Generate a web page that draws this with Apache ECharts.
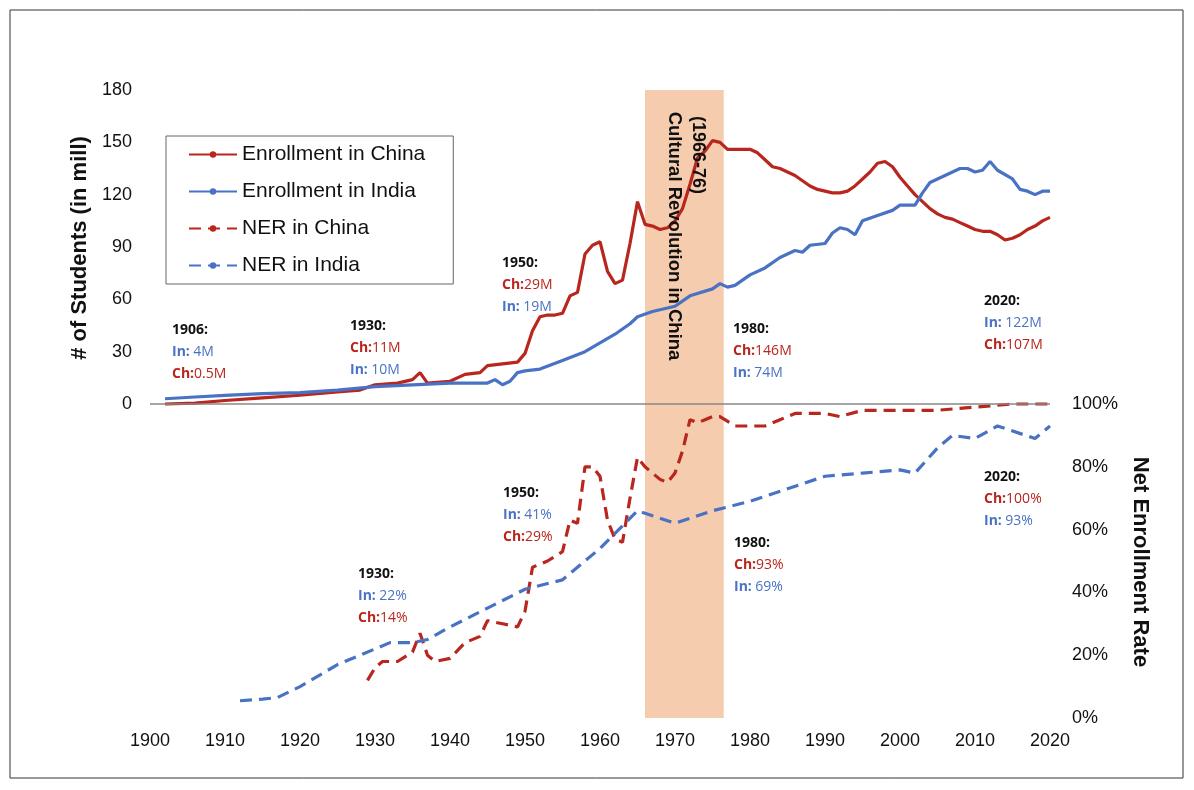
<!DOCTYPE html>
<html><head><meta charset="utf-8">
<script src="https://cdn.jsdelivr.net/npm/echarts@6/dist/echarts.min.js"></script>
<style>html,body{margin:0;background:#fff}#c{width:1194px;height:790px}</style>
</head><body><div id="c"></div>
<script>
const chinaEnroll=[[1902,0],[1906,0.5],[1910,2],[1915,3.5],[1920,5],[1925,7],[1928,8],[1930,11],[1933,12],[1935,14],[1936,18],[1937,12],[1940,13],[1942,17],[1944,18],[1945,22],[1947,23],[1949,24],[1950,29],[1951,42],[1952,50],[1953,51],[1954,51],[1955,52],[1956,62],[1957,64],[1958,86],[1959,91],[1960,93],[1961,76],[1962,69],[1963,71],[1964,92],[1965,116],[1966,103],[1967,102],[1968,100],[1969,101],[1970,105],[1971,112],[1972,126],[1973,141],[1974,145],[1975,151],[1976,150],[1977,146],[1978,146],[1979,146],[1980,146],[1981,144],[1982,140],[1983,136],[1984,135],[1985,133],[1986,131],[1987,128],[1988,125],[1989,123],[1990,122],[1991,121],[1992,121],[1993,122],[1994,125],[1995,129],[1996,133],[1997,138],[1998,139],[1999,136],[2000,130],[2001,125],[2002,120],[2003,116],[2004,112],[2005,109],[2006,107],[2007,106],[2008,104],[2009,102],[2010,100],[2011,99],[2012,99],[2013,97],[2014,94],[2015,95],[2016,97],[2017,100],[2018,102],[2019,105],[2020,107]];
const indiaEnroll=[[1902,3],[1906,4],[1910,5],[1915,6],[1920,6.5],[1925,8],[1930,10],[1935,11],[1940,12],[1945,12],[1946,14],[1947,11],[1948,13],[1949,18],[1950,19],[1952,20],[1955,25],[1958,30],[1960,35],[1962,40],[1964,46],[1965,50],[1967,53],[1970,56],[1972,62],[1975,66],[1976,69],[1977,67],[1978,68],[1980,74],[1982,78],[1984,84],[1986,88],[1987,87],[1988,91],[1990,92],[1991,98],[1992,101],[1993,100],[1994,97],[1995,105],[1997,108],[1999,111],[2000,114],[2002,114],[2003,121],[2004,127],[2006,131],[2008,135],[2009,135],[2010,133],[2011,134],[2012,139],[2013,134],[2015,129],[2016,123],[2017,122],[2018,120],[2019,122],[2020,122]];
const chinaNER=[[1929,12],[1930,16],[1931,18],[1933,18],[1935,21],[1936,27],[1937,20],[1938,18],[1940,19],[1942,24],[1944,26],[1945,31],[1947,30],[1949,29],[1950,34],[1951,48],[1953,50],[1955,53],[1956,63],[1957,62],[1958,80],[1959,80],[1960,77],[1961,63],[1962,57],[1963,56],[1964,70],[1965,83],[1966,80],[1967,78],[1968,76],[1969,75],[1970,78],[1971,85],[1972,95],[1973,94],[1974,95],[1975,96],[1976,96],[1978,93],[1980,93],[1982,93],[1984,95],[1986,97],[1990,97],[1992,96],[1995,98],[2000,98],[2005,98],[2010,99],[2015,100],[2020,100]];
const indiaNER=[[1912,5.5],[1915,6],[1917,6.5],[1920,10],[1925,17],[1928,20],[1930,22],[1932,24],[1935,24],[1937,25],[1940,29],[1945,35],[1950,41],[1955,44],[1960,54],[1965,66],[1970,62],[1975,66],[1980,69],[1985,73],[1990,77],[1995,78],[2000,79],[2002,78],[2005,86],[2007,90],[2010,89],[2013,93],[2018,89],[2020,93]];
const RED='#b8261d', BLUE='#4a72c4', F='Liberation Sans';
const chart=echarts.init(document.getElementById('c'));
function ann(x,y,lines){return {type:'text',left:x,top:y,style:{text:lines.join('\n'),rich:{
  k:{fontFamily:'Open Sans',fontWeight:'bold',fontSize:14,fill:'#111',lineHeight:22},
  r:{fontFamily:'Open Sans',fontSize:14,fill:RED,lineHeight:22},
  rb:{fontFamily:'Open Sans',fontWeight:'bold',fontSize:14,fill:RED,lineHeight:22},
  b:{fontFamily:'Open Sans',fontSize:14,fill:BLUE,lineHeight:22},
  bb:{fontFamily:'Open Sans',fontWeight:'bold',fontSize:14,fill:BLUE,lineHeight:22}}}};}
chart.setOption({
  animation:false,
  grid:{left:150,right:144,top:90,bottom:72},
  xAxis:{type:'value',min:1900,max:2020,interval:10,axisLine:{show:false},axisTick:{show:false},
    splitLine:{show:false},axisLabel:{fontFamily:F,fontSize:18,color:'#111',margin:14,formatter:v=>String(v)}},
  yAxis:[{type:'value',min:-180,max:180,interval:30,axisLine:{show:false},axisTick:{show:false},
    splitLine:{show:false},axisLabel:{fontFamily:F,fontSize:18,color:'#111',margin:18,formatter:v=>v<0?'':String(v)}},
   {type:'value',min:0,max:200,interval:20,axisLine:{show:false},axisTick:{show:false},splitLine:{show:false},
    axisLabel:{fontFamily:F,fontSize:18,color:'#111',margin:22,formatter:v=>v>100?'':v+'%'}}],
  legend:{orient:'vertical',left:166,top:136,itemWidth:48,itemHeight:8,itemGap:16,padding:[8,28,8,22],
    borderColor:'#666',borderWidth:1,textStyle:{fontFamily:F,fontSize:21,color:'#111'},
    data:['Enrollment in China','Enrollment in India','NER in China','NER in India']},
  series:[
   {name:'Enrollment in China',type:'line',data:chinaEnroll,symbol:'none',lineStyle:{color:RED,width:3.2},itemStyle:{color:RED},z:3,
    markLine:{silent:true,symbol:'none',label:{show:false},lineStyle:{color:'#888',width:1.5,type:'solid'},data:[{yAxis:0}]},
    markArea:{silent:true,itemStyle:{color:'rgba(238,170,120,0.6)'},data:[[{xAxis:1966},{xAxis:1976.5}]]}},
   {name:'Enrollment in India',type:'line',data:indiaEnroll,symbol:'none',lineStyle:{color:BLUE,width:3.2},itemStyle:{color:BLUE},z:3},
   {name:'NER in China',type:'line',yAxisIndex:1,data:chinaNER,symbol:'none',lineStyle:{color:RED,width:3.2,type:[12,7]},itemStyle:{color:RED},z:3},
   {name:'NER in India',type:'line',yAxisIndex:1,data:indiaNER,symbol:'none',lineStyle:{color:BLUE,width:3.2,type:[12,7]},itemStyle:{color:BLUE},z:3}
  ],
  graphic:[
   {type:'rect',shape:{x:10,y:10,width:1173,height:768},style:{fill:'none',stroke:'#333',lineWidth:1},silent:true},
   {type:'text',x:80,y:248,rotation:Math.PI/2,style:{text:'# of Students (in mill)',fontFamily:F,fontWeight:'bold',fontSize:22,fill:'#111',align:'center',verticalAlign:'middle'}},
   {type:'text',x:1140,y:562,rotation:-Math.PI/2,style:{text:'Net Enrollment Rate',fontFamily:F,fontWeight:'bold',fontSize:22,fill:'#111',align:'center',verticalAlign:'middle'}},
   {type:'text',x:698,y:155,rotation:-Math.PI/2,z:10,style:{text:'(1966-76)',fontFamily:F,fontWeight:'bold',fontSize:18,fill:'#111',align:'center',verticalAlign:'middle'}},
   {type:'text',x:674,y:236,rotation:-Math.PI/2,z:10,style:{text:'Cultural Revolution in China',fontFamily:F,fontWeight:'bold',fontSize:18.5,fill:'#111',align:'center',verticalAlign:'middle'}},
   ann(172,323,['{k|1906:}','{bb|In:} {b|4M}','{rb|Ch:}{r|0.5M}']),
   ann(350,319,['{k|1930:}','{rb|Ch:}{r|11M}','{bb|In:} {b|10M}']),
   ann(502,256,['{k|1950:}','{rb|Ch:}{r|29M}','{bb|In:} {b|19M}']),
   ann(733,322,['{k|1980:}','{rb|Ch:}{r|146M}','{bb|In:} {b|74M}']),
   ann(984,294,['{k|2020:}','{bb|In:} {b|122M}','{rb|Ch:}{r|107M}']),
   ann(358,567,['{k|1930:}','{bb|In:} {b|22%}','{rb|Ch:}{r|14%}']),
   ann(503,486,['{k|1950:}','{bb|In:} {b|41%}','{rb|Ch:}{r|29%}']),
   ann(734,536,['{k|1980:}','{rb|Ch:}{r|93%}','{bb|In:} {b|69%}']),
   ann(984,470,['{k|2020:}','{rb|Ch:}{r|100%}','{bb|In:} {b|93%}'])
  ]
});
</script></body></html>
